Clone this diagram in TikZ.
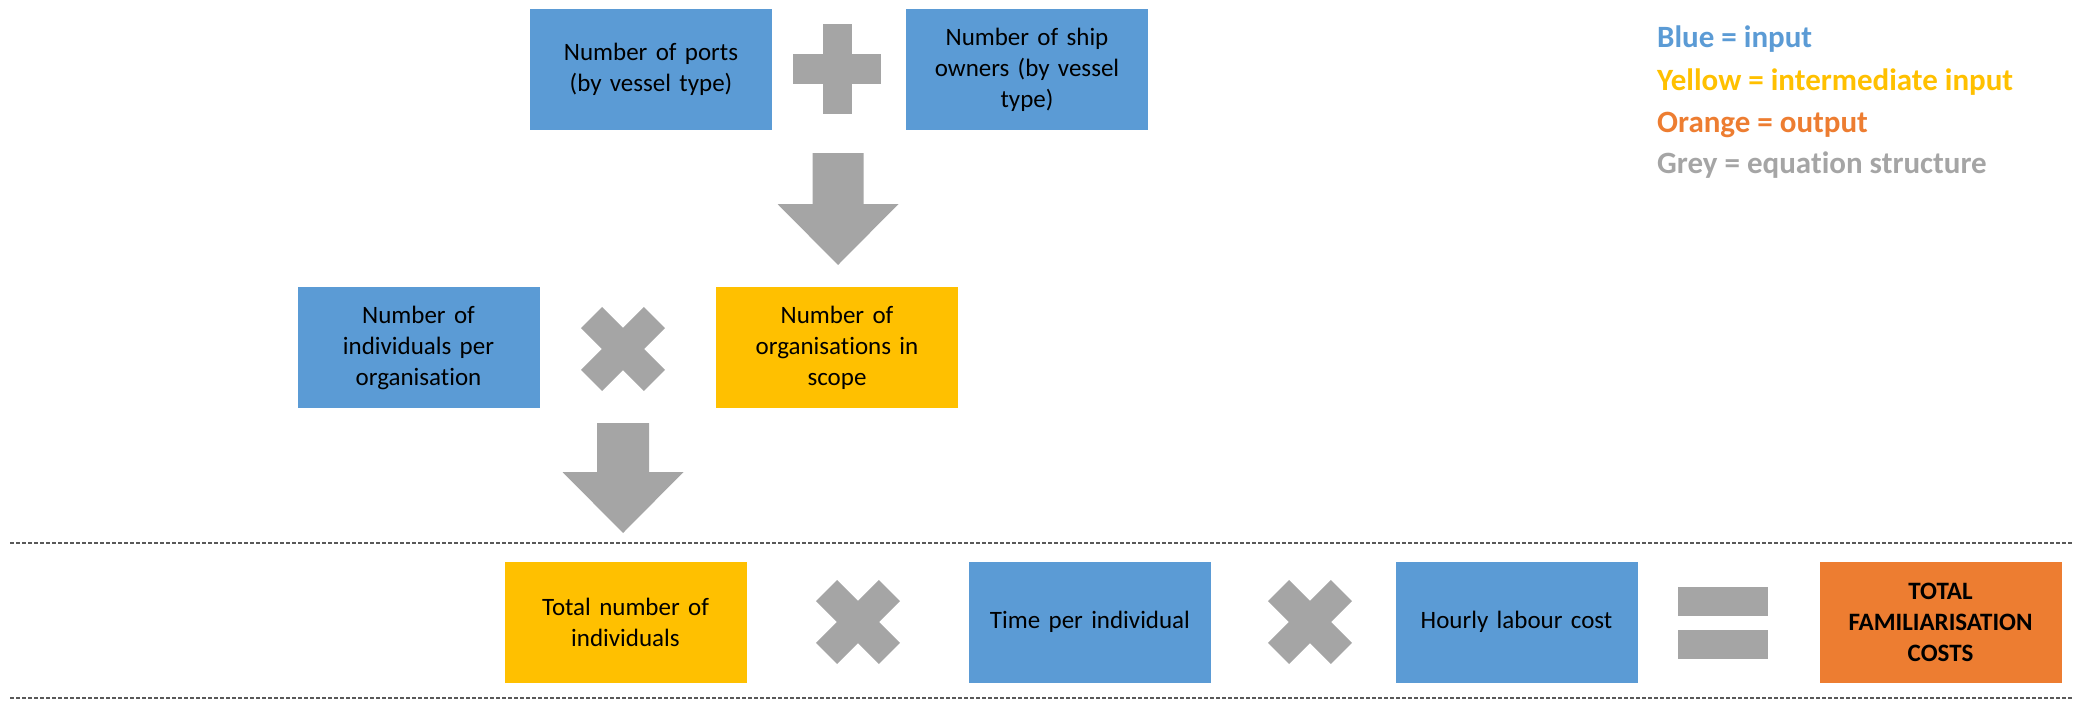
\documentclass[tikz,border=0pt]{standalone}
\usepackage{fontspec}
\setmainfont{Carlito}[Ligatures=NoCommon]
\definecolor{inblue}{HTML}{5B9BD5}
\definecolor{midyellow}{HTML}{FFC000}
\definecolor{outorange}{HTML}{ED7D31}
\definecolor{opgrey}{HTML}{A5A5A5}
\tikzset{
  box/.style={rectangle, minimum width=242pt, minimum height=121pt, inner sep=0pt,
    text width=226pt, align=center, font=\fontsize{25}{31}\selectfont},
  inbox/.style={box, fill=inblue},
  midbox/.style={box, fill=midyellow},
  outbox/.style={box, fill=outorange, font=\bfseries\fontsize{25}{31}\selectfont},
  bar/.style={rectangle, fill=opgrey, inner sep=0pt},
  timesarm/.style={bar, minimum width=89pt, minimum height=30pt},
  legend/.style={anchor=base west, inner sep=0pt, font=\bfseries\fontsize{31}{38}\selectfont},
  sepline/.style={draw=black!65, line width=2pt, dash pattern=on 4pt off 2pt}
}
\begin{document}
\begin{tikzpicture}[x=1pt,y=-1pt]
\useasboundingbox (0,0) rectangle (2076,701);
% first step
\node[inbox] (ports) at (651,69.5) {Number of ports\\(by vessel type)};
\node[inbox] (owners) at (1027,69.5) {Number of ship\\owners (by vessel\\type)};
\node[bar, minimum width=88pt, minimum height=29pt] (plush) at (837,69) {};
\node[bar, minimum width=29pt, minimum height=90pt] (plusv) at (837,69) {};
\coordinate (arrA) at (838,153);
\fill[opgrey] (arrA) ++(-25.5,0) -- ++(51,0) -- ++(0,51) -- ++(35,0)
  -- ++(-60.5,61) -- ++(-60.5,-61) -- ++(35,0) -- cycle;
% second step
\node[inbox] (perorg) at (418.5,347.5) {Number of\\individuals per\\organisation};
\node[midbox] (orgs) at (837,347.5) {Number of\\organisations in\\scope};
\node[timesarm, rotate=45] (timesAa) at (623,349) {};
\node[timesarm, rotate=-45] (timesAb) at (623,349) {};
\coordinate (arrB) at (623,423);
\fill[opgrey] (arrB) ++(-26,0) -- ++(52,0) -- ++(0,49) -- ++(34.5,0)
  -- ++(-60.5,61) -- ++(-60.5,-61) -- ++(34.5,0) -- cycle;
% final equation
\coordinate (topL) at (10,543);
\coordinate (topR) at (2072,543);
\coordinate (botL) at (10,698);
\coordinate (botR) at (2072,698);
\draw[sepline] (topL) -- (topR);
\draw[sepline] (botL) -- (botR);
\node[midbox] (total) at (625.5,622) {Total number of\\individuals};
\node[inbox] (time) at (1090,622) {Time per individual};
\node[inbox] (hourly) at (1516.5,622) {Hourly labour cost};
\node[outbox] (result) at (1940.5,622) {TOTAL\\FAMILIARISATION\\COSTS};
\node[timesarm, rotate=45] (timesBa) at (858,622) {};
\node[timesarm, rotate=-45] (timesBb) at (858,622) {};
\node[timesarm, rotate=45] (timesCa) at (1310,622) {};
\node[timesarm, rotate=-45] (timesCb) at (1310,622) {};
\node[bar, minimum width=90pt, minimum height=29pt] (eqtop) at (1723,601.5) {};
\node[bar, minimum width=90pt, minimum height=29pt] (eqbot) at (1723,644) {};
% legend
\node[legend, text=inblue] (keyblue) at (1657,48) {Blue = input};
\node[legend, text=midyellow] (keyyellow) at (1657,90) {Yellow = intermediate input};
\node[legend, text=outorange] (keyorange) at (1657,132) {Orange = output};
\node[legend, text=opgrey] (keygrey) at (1657,173) {Grey = equation structure};
\end{tikzpicture}
\end{document}
